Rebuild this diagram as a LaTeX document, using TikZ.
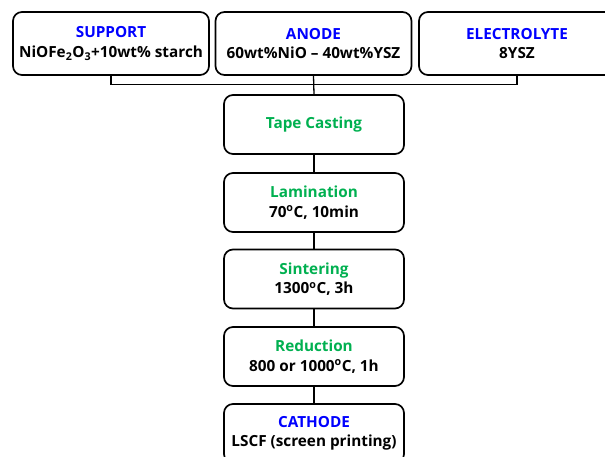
\documentclass[tikz,border=0pt]{standalone}
\usepackage{fontspec}
\setmainfont{Open Sans}
\usepackage{tikz}
\definecolor{titreBleu}{RGB}{0,0,255}
\definecolor{titreVert}{RGB}{0,176,80}

\begin{document}
\begin{tikzpicture}[x=1pt,y=-1pt,
		boite/.style={draw, line width=1.7pt, rounded corners=9pt, align=center,
			font=\fontsize{15.3}{19.5}\selectfont\bfseries, inner sep=0pt},
		haut/.style={boite, minimum width=196pt, minimum height=63pt},
		etape/.style={boite, minimum width=180pt, minimum height=59pt},
		lien/.style={line width=1.3pt}]
			
			% Cadre de l'image
			\useasboundingbox (0,0) rectangle (605,457);
			
			% Boîtes du haut (matériaux)
			\node[haut] (support) at (111,43.5) {\textcolor{titreBleu}{SUPPORT}\\NiOFe\textsubscript{2}O\textsubscript{3}+10wt\% starch};
			\node[haut] (anode) at (313.5,43.5) {\textcolor{titreBleu}{ANODE}\\60wt\%NiO -- 40wt\%YSZ};
			\node[haut] (electrolyte) at (517,43.5) {\textcolor{titreBleu}{ELECTROLYTE}\\8YSZ};
			
			% Étapes du procédé
			\node[etape] (tape) at (314,124.5) {\textcolor{titreVert}{Tape Casting}};
			\node[etape] (lamination) at (314,202.5) {\textcolor{titreVert}{Lamination}\\70\textsuperscript{o}C, 10min};
			\node[etape] (sintering) at (314,279) {\textcolor{titreVert}{Sintering}\\1300\textsuperscript{o}C, 3h};
			\node[etape] (reduction) at (314,356.5) {\textcolor{titreVert}{Reduction}\\800 or 1000\textsuperscript{o}C, 1h};
			\node[etape] (cathode) at (314,433.5) {\textcolor{titreBleu}{CATHODE}\\LSCF (screen printing)};
			
			% Barre qui réunit les trois boîtes
			\coordinate (barre) at (314,84.5);
			\draw[lien] (support.south) |- (barre) -| (electrolyte.south);
			\draw[lien] (anode.south) -- (tape.north);
			
			% Liens entre les étapes
			\draw[lien] (tape) -- (lamination);
			\draw[lien] (lamination) -- (sintering);
			\draw[lien] (sintering) -- (reduction);
			\draw[lien] (reduction) -- (cathode);
			
		\end{tikzpicture}
\end{document}
